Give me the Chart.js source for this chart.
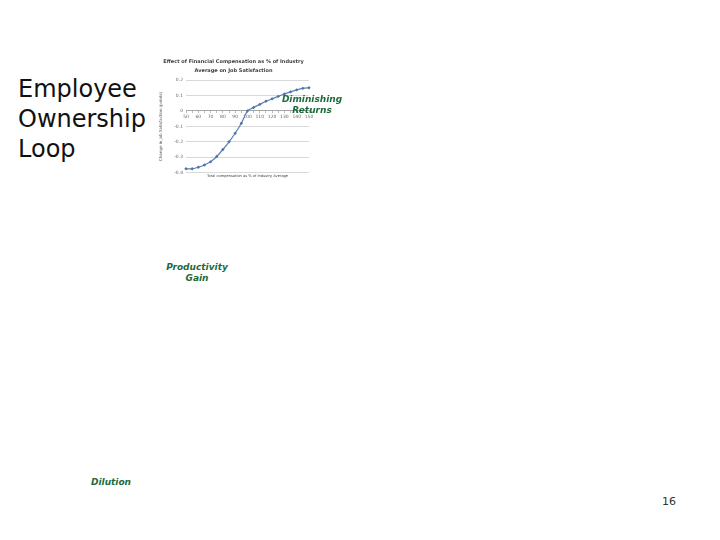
<!DOCTYPE html>
<html lang="en">

<head>
  <meta charset="UTF-8" />
  <title>Employee Ownership Loop</title>
  <script src="https://cdn.jsdelivr.net/npm/chart.js"></script>
  <style>
    html,
    body {
      margin: 0;
      padding: 0;
      width: 720px;
      height: 540px;
      background-color: #fff;
      font-family: 'DejaVu Sans', Verdana, sans-serif;
      position: relative;
      overflow: hidden;
    }

    #slideTitle {
      position: absolute;
      left: 18px;
      top: 74px;
      font-size: 24px;
      line-height: 30px;
      color: #111;
    }

    .note {
      position: absolute;
      color: #1d6b3b;
      font-weight: bold;
      font-style: italic;
      font-size: 9px;
      line-height: 11px;
      text-align: center;
      white-space: nowrap;
    }

    #pageNum {
      position: absolute;
      left: 662px;
      top: 495px;
      font-size: 11px;
      color: #333;
    }

    #chart-box {
      position: absolute;
      left: 158px;
      top: 45px;
      width: 160px;
      height: 137px;
    }
  </style>
</head>

<body>
  <div id="slideTitle">Employee<br>Ownership<br>Loop</div>

  <div id="chart-box">
    <canvas id="satChart"></canvas>
  </div>

  <div class="note" style="left:272px; top:94px; width:80px;">Diminishing<br>Returns</div>
  <div class="note" style="left:157px; top:262px; width:80px;">Productivity<br>Gain</div>
  <div class="note" style="left:71px; top:477px; width:80px;">Dilution</div>

  <div id="pageNum">16</div>

  <script>
    // compensation as % of industry average (categories) and labels shown on the axis
    const categories = ['50', '55', '60', '65', '70', '75', '80', '85', '90', '95', '100',
      '105', '110', '115', '120', '125', '130', '135', '140', '145', '150'];
    const tickLabels = ['50', '60', '70', '80', '90', '100', '110', '120', '130', '140', '150'];

    // change in job satisfaction
    const satisfaction = [-0.375, -0.375, -0.365, -0.35, -0.33, -0.295, -0.25, -0.2, -0.145, -0.08, 0,
      0.022, 0.042, 0.062, 0.078, 0.094, 0.11, 0.123, 0.136, 0.146, 0.15];

    const yMin = -0.4;
    const yMax = 0.2;
    const yStep = 0.1;

    const chartTitle = ['Effect of Financial Compensation as % of Industry', 'Average on Job Satisfaction'];
    const xTitle = 'Total compensation as % of Industry Average';
    const yTitle = 'Change in Job Satisfaction (points)';

    const ctx = document.getElementById('satChart').getContext('2d');

    const satChart = new Chart(ctx, {
      type: 'line',
      data: {
        labels: categories,
        datasets: [{
          label: 'Job Satisfaction',
          data: satisfaction,
          borderColor: '#5b7fb3',
          borderWidth: 1.2,
          pointStyle: 'rectRot',
          pointRadius: 1.7,
          pointBackgroundColor: '#4f74a8',
          pointBorderColor: '#4f74a8',
          pointBorderWidth: 0,
          tension: 0.2,
        }]
      },
      options: {
        responsive: true,
        maintainAspectRatio: false,
        animation: false,
        layout: {
          padding: { left: 0, right: 9, top: 0, bottom: 4 }
        },
        scales: {
          x: {
            position: { y: 0 },
            offset: false,
            grid: {
              display: true,
              drawOnChartArea: false,
              drawTicks: true,
              tickLength: 2,
              color: '#bbbbbb'
            },
            border: {
              display: true,
              color: '#a6a6a6'
            },
            ticks: {
              autoSkip: false,
              maxRotation: 0,
              padding: 1,
              color: '#6b6b6b',
              font: { size: 4.5, family: 'DejaVu Sans' },
              callback: function (value) {
                const lab = this.getLabelForValue(value);
                return tickLabels.includes(lab) ? lab : '';
              }
            }
          },
          // bottom axis only carries the title, centred under the plot
          xTitleAxis: {
            type: 'category',
            position: 'bottom',
            offset: false,
            grid: { display: false, drawTicks: false },
            border: { display: false },
            ticks: { display: false },
            title: {
              display: true,
              text: xTitle,
              color: '#404040',
              padding: { top: 1, bottom: 0 },
              font: { size: 3.6, family: 'DejaVu Sans' }
            }
          },
          y: {
            min: yMin,
            max: yMax,
            afterFit: function (scale) {
              scale.width = 28;
            },
            ticks: {
              stepSize: yStep,
              padding: 3,
              color: '#6b6b6b',
              font: { size: 4.5, family: 'DejaVu Sans' },
              callback: function (value) {
                const v = Math.round(value * 10) / 10;
                return v === 0 ? '0' : v.toFixed(1);
              }
            },
            grid: {
              color: '#d9d9d9',
              drawTicks: false
            },
            border: {
              display: false
            },
            title: {
              display: true,
              text: yTitle,
              color: '#555',
              padding: 1,
              font: { size: 4, family: 'DejaVu Sans' }
            }
          }
        },
        plugins: {
          legend: { display: false },
          tooltip: { enabled: false },
          title: {
            display: true,
            text: chartTitle,
            color: '#404040',
            padding: { top: 12, bottom: 5 },
            font: { size: 5, weight: 'bold', family: 'DejaVu Sans', lineHeight: 1.8 }
          }
        }
      }
    });
  </script>
</body>

</html>
